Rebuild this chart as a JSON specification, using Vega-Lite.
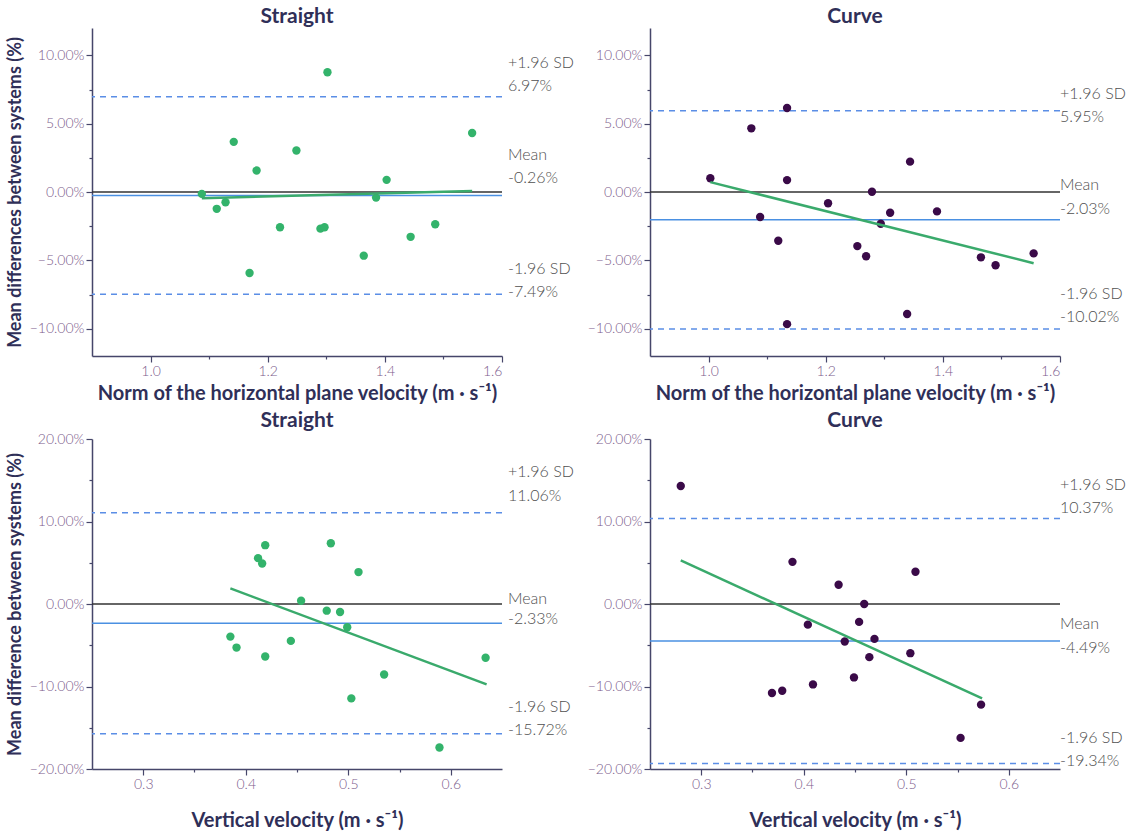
{
  "$schema": "https://vega.github.io/schema/vega-lite/v6.json",
  "background": "white",
  "padding": {"left": 6, "top": 6, "right": 0, "bottom": 5},
  "config": {
    "view": {"stroke": null},
    "font": "Lato",
    "axis": {"grid": false, "domainColor": "#46466a", "domainWidth": 1.5, "tickColor": "#46466a", "tickWidth": 1.2, "labelColor": "#7c5c8c", "labelFontSize": 14, "labelFont": "Lato", "labelFontWeight": 300, "titleFont": "Lato", "titleFontWeight": "bold", "titleColor": "#2f2f58", "titleFontSize": 20},
    "axisY": {"titleFontSize": 18},
    "title": {"font": "Lato", "fontSize": 21, "fontWeight": "bold", "color": "#2f2f58", "offset": 1, "anchor": "middle", "frame": "group"},
    "text": {"font": "Lato", "fontSize": 16, "fontWeight": 300, "color": "#505050", "align": "left", "baseline": "middle"}
  },
  "bounds": "flush",
  "columns": 2,
  "spacing": {"row": 83, "column": 148},
  "concat": [
        {
          "width": 410, "height": 328,
          "title": "Straight",
          "layer": [
            {"data": {"values": [{"y": 0}]}, "mark": {"type": "rule", "color": "#333333", "strokeWidth": 1.5}, "encoding": {"y": {"field": "y", "type": "quantitative", "scale": {"domain": [-12, 12], "nice": false}}}},
            {"data": {"values": [{"y": -0.26}]}, "mark": {"type": "rule", "color": "#4a90e2", "strokeWidth": 1.5}, "encoding": {"y": {"field": "y", "type": "quantitative"}}},
            {"data": {"values": [{"y": 6.97}, {"y": -7.49}]}, "mark": {"type": "rule", "color": "#5b8ee6", "strokeWidth": 1.5, "strokeDash": [6, 5]}, "encoding": {"y": {"field": "y", "type": "quantitative"}}},
            {"data": {"values": [
              {"x": 1.0875, "y": -0.14}, {"x": 1.113, "y": -1.23}, {"x": 1.128, "y": -0.75}, {"x": 1.142, "y": 3.67},
              {"x": 1.169, "y": -5.93}, {"x": 1.181, "y": 1.57}, {"x": 1.221, "y": -2.58}, {"x": 1.249, "y": 3.04},
              {"x": 1.290, "y": -2.68}, {"x": 1.297, "y": -2.58}, {"x": 1.302, "y": 8.76}, {"x": 1.364, "y": -4.66},
              {"x": 1.385, "y": -0.41}, {"x": 1.403, "y": 0.89}, {"x": 1.444, "y": -3.28}, {"x": 1.486, "y": -2.36},
              {"x": 1.549, "y": 4.32}]},
             "mark": {"type": "circle", "size": 70, "opacity": 1, "color": "#33b36b"},
             "encoding": {
               "x": {"field": "x", "type": "quantitative", "scale": {"domain": [0.9, 1.6], "nice": false, "zero": false},
                     "axis": {"title": "Norm of the horizontal plane velocity (m · s⁻¹)", "titlePadding": 5, "values": [1.0, 1.1, 1.2, 1.3, 1.4, 1.5, 1.6],
                              "labelExpr": "round(datum.value*10)%2==0 ? format(datum.value,'.1f') : ''",
                              "tickSize": {"condition": {"test": "round(datum.value*10)%2!=0", "value": 3}, "value": 6}}},
               "y": {"field": "y", "type": "quantitative",
                     "axis": {"title": "Mean differences between systems (%)", "titlePadding": 5, "values": [-10, -7.5, -5, -2.5, 0, 2.5, 5, 7.5, 10],
                              "labelExpr": "datum.value%5==0 ? format(datum.value,'.2f')+'%' : ''",
                              "tickSize": {"condition": {"test": "datum.value%5!=0", "value": 3}, "value": 6}}}
             }},
            {"data": {"values": [{"x": 1.0875, "y": -0.45}, {"x": 1.549, "y": 0.07}]}, "mark": {"type": "line", "color": "#3aaa6c", "strokeWidth": 2.5}, "encoding": {"x": {"field": "x", "type": "quantitative"}, "y": {"field": "y", "type": "quantitative"}}},
            {"data": {"values": [
              {"x": 1.6, "y": 9.46, "t": "+1.96 SD"}, {"x": 1.6, "y": 7.72, "t": "6.97%"},
              {"x": 1.6, "y": 2.70, "t": "Mean"}, {"x": 1.6, "y": 1.06, "t": "-0.26%"},
              {"x": 1.6, "y": -5.62, "t": "-1.96 SD"}, {"x": 1.6, "y": -7.31, "t": "-7.49%"}]},
             "mark": {"type": "text", "dx": 6}, "encoding": {"x": {"field": "x", "type": "quantitative"}, "y": {"field": "y", "type": "quantitative"}, "text": {"field": "t"}}}
          ]
        },
        {
          "width": 410, "height": 328,
          "title": "Curve",
          "layer": [
            {"data": {"values": [{"y": 0}]}, "mark": {"type": "rule", "color": "#333333", "strokeWidth": 1.5}, "encoding": {"y": {"field": "y", "type": "quantitative", "scale": {"domain": [-12, 12], "nice": false}}}},
            {"data": {"values": [{"y": -2.03}]}, "mark": {"type": "rule", "color": "#4a90e2", "strokeWidth": 1.5}, "encoding": {"y": {"field": "y", "type": "quantitative"}}},
            {"data": {"values": [{"y": 5.95}, {"y": -10.02}]}, "mark": {"type": "rule", "color": "#5b8ee6", "strokeWidth": 1.5, "strokeDash": [6, 5]}, "encoding": {"y": {"field": "y", "type": "quantitative"}}},
            {"data": {"values": [
              {"x": 1.003, "y": 1.01}, {"x": 1.073, "y": 4.66}, {"x": 1.088, "y": -1.83}, {"x": 1.119, "y": -3.57},
              {"x": 1.134, "y": 6.15}, {"x": 1.134, "y": 0.87}, {"x": 1.134, "y": -9.67}, {"x": 1.204, "y": -0.82},
              {"x": 1.254, "y": -3.96}, {"x": 1.269, "y": -4.70}, {"x": 1.279, "y": 0.02}, {"x": 1.294, "y": -2.32},
              {"x": 1.310, "y": -1.52}, {"x": 1.339, "y": -8.93}, {"x": 1.344, "y": 2.22}, {"x": 1.390, "y": -1.42},
              {"x": 1.465, "y": -4.78}, {"x": 1.490, "y": -5.36}, {"x": 1.555, "y": -4.49}]},
             "mark": {"type": "circle", "size": 70, "opacity": 1, "color": "#3a0a48"},
             "encoding": {
               "x": {"field": "x", "type": "quantitative", "scale": {"domain": [0.9, 1.6], "nice": false, "zero": false},
                     "axis": {"title": "Norm of the horizontal plane velocity (m · s⁻¹)", "titlePadding": 5, "values": [1.0, 1.1, 1.2, 1.3, 1.4, 1.5, 1.6],
                              "labelExpr": "round(datum.value*10)%2==0 ? format(datum.value,'.1f') : ''",
                              "tickSize": {"condition": {"test": "round(datum.value*10)%2!=0", "value": 3}, "value": 6}}},
               "y": {"field": "y", "type": "quantitative",
                     "axis": {"title": null, "values": [-10, -7.5, -5, -2.5, 0, 2.5, 5, 7.5, 10],
                              "labelExpr": "datum.value%5==0 ? format(datum.value,'.2f')+'%' : ''",
                              "tickSize": {"condition": {"test": "datum.value%5!=0", "value": 3}, "value": 6}}}
             }},
            {"data": {"values": [{"x": 1.003, "y": 0.72}, {"x": 1.555, "y": -5.21}]}, "mark": {"type": "line", "color": "#3aaa6c", "strokeWidth": 2.5}, "encoding": {"x": {"field": "x", "type": "quantitative"}, "y": {"field": "y", "type": "quantitative"}}},
            {"data": {"values": [
              {"x": 1.6, "y": 7.17, "t": "+1.96 SD"}, {"x": 1.6, "y": 5.48, "t": "5.95%"},
              {"x": 1.6, "y": 0.48, "t": "Mean"}, {"x": 1.6, "y": -1.21, "t": "-2.03%"},
              {"x": 1.6, "y": -7.43, "t": "-1.96 SD"}, {"x": 1.6, "y": -9.17, "t": "-10.02%"}]},
             "mark": {"type": "text", "dx": 0}, "encoding": {"x": {"field": "x", "type": "quantitative"}, "y": {"field": "y", "type": "quantitative"}, "text": {"field": "t"}}}
          ]
        },
        {
          "width": 410, "height": 330,
          "title": "Straight",
          "layer": [
            {"data": {"values": [{"y": 0}]}, "mark": {"type": "rule", "color": "#333333", "strokeWidth": 1.5}, "encoding": {"y": {"field": "y", "type": "quantitative", "scale": {"domain": [-20, 20], "nice": false}}}},
            {"data": {"values": [{"y": -2.33}]}, "mark": {"type": "rule", "color": "#4a90e2", "strokeWidth": 1.5}, "encoding": {"y": {"field": "y", "type": "quantitative"}}},
            {"data": {"values": [{"y": 11.06}, {"y": -15.72}]}, "mark": {"type": "rule", "color": "#5b8ee6", "strokeWidth": 1.5, "strokeDash": [6, 5]}, "encoding": {"y": {"field": "y", "type": "quantitative"}}},
            {"data": {"values": [
              {"x": 0.385, "y": -3.95}, {"x": 0.391, "y": -5.28}, {"x": 0.412, "y": 5.56}, {"x": 0.416, "y": 4.91},
              {"x": 0.419, "y": 7.13}, {"x": 0.419, "y": -6.36}, {"x": 0.444, "y": -4.47}, {"x": 0.454, "y": 0.40},
              {"x": 0.479, "y": -0.81}, {"x": 0.483, "y": 7.37}, {"x": 0.492, "y": -0.97}, {"x": 0.499, "y": -2.82},
              {"x": 0.510, "y": 3.87}, {"x": 0.503, "y": -11.44}, {"x": 0.535, "y": -8.54}, {"x": 0.589, "y": -17.40},
              {"x": 0.634, "y": -6.52}]},
             "mark": {"type": "circle", "size": 70, "opacity": 1, "color": "#33b36b"},
             "encoding": {
               "x": {"field": "x", "type": "quantitative", "scale": {"domain": [0.25, 0.65], "nice": false, "zero": false},
                     "axis": {"title": "Vertical velocity (m · s⁻¹)", "titlePadding": 19, "values": [0.3, 0.35, 0.4, 0.45, 0.5, 0.55, 0.6],
                              "labelExpr": "round(datum.value*100)%10==0 ? format(datum.value,'.1f') : ''",
                              "tickSize": {"condition": {"test": "round(datum.value*100)%10!=0", "value": 3}, "value": 6}}},
               "y": {"field": "y", "type": "quantitative",
                     "axis": {"title": "Mean difference between systems (%)", "titlePadding": 5, "values": [-20, -15, -10, -5, 0, 5, 10, 15, 20],
                              "labelExpr": "datum.value%10==0 ? format(datum.value,'.2f')+'%' : ''",
                              "tickSize": {"condition": {"test": "datum.value%10!=0", "value": 3}, "value": 6}}}
             }},
            {"data": {"values": [{"x": 0.385, "y": 1.89}, {"x": 0.635, "y": -9.75}]}, "mark": {"type": "line", "color": "#3aaa6c", "strokeWidth": 2.5}, "encoding": {"x": {"field": "x", "type": "quantitative"}, "y": {"field": "y", "type": "quantitative"}}},
            {"data": {"values": [
              {"x": 0.65, "y": 15.99, "t": "+1.96 SD"}, {"x": 0.65, "y": 13.09, "t": "11.06%"},
              {"x": 0.65, "y": 0.60, "t": "Mean"}, {"x": 0.65, "y": -1.85, "t": "-2.33%"},
              {"x": 0.65, "y": -12.53, "t": "-1.96 SD"}, {"x": 0.65, "y": -15.30, "t": "-15.72%"}]},
             "mark": {"type": "text", "dx": 6}, "encoding": {"x": {"field": "x", "type": "quantitative"}, "y": {"field": "y", "type": "quantitative"}, "text": {"field": "t"}}}
          ]
        },
        {
          "width": 410, "height": 330,
          "title": "Curve",
          "layer": [
            {"data": {"values": [{"y": 0}]}, "mark": {"type": "rule", "color": "#333333", "strokeWidth": 1.5}, "encoding": {"y": {"field": "y", "type": "quantitative", "scale": {"domain": [-20, 20], "nice": false}}}},
            {"data": {"values": [{"y": -4.49}]}, "mark": {"type": "rule", "color": "#4a90e2", "strokeWidth": 1.5}, "encoding": {"y": {"field": "y", "type": "quantitative"}}},
            {"data": {"values": [{"y": 10.37}, {"y": -19.34}]}, "mark": {"type": "rule", "color": "#5b8ee6", "strokeWidth": 1.5, "strokeDash": [6, 5]}, "encoding": {"y": {"field": "y", "type": "quantitative"}}},
            {"data": {"values": [
              {"x": 0.280, "y": 14.30}, {"x": 0.369, "y": -10.79}, {"x": 0.379, "y": -10.51}, {"x": 0.389, "y": 5.11},
              {"x": 0.404, "y": -2.50}, {"x": 0.409, "y": -9.75}, {"x": 0.434, "y": 2.34}, {"x": 0.440, "y": -4.55},
              {"x": 0.449, "y": -8.90}, {"x": 0.454, "y": -2.17}, {"x": 0.459, "y": 0.0}, {"x": 0.464, "y": -6.44},
              {"x": 0.469, "y": -4.23}, {"x": 0.504, "y": -5.96}, {"x": 0.509, "y": 3.91}, {"x": 0.553, "y": -16.23},
              {"x": 0.573, "y": -12.20}]},
             "mark": {"type": "circle", "size": 70, "opacity": 1, "color": "#3a0a48"},
             "encoding": {
               "x": {"field": "x", "type": "quantitative", "scale": {"domain": [0.25, 0.65], "nice": false, "zero": false},
                     "axis": {"title": "Vertical velocity (m · s⁻¹)", "titlePadding": 19, "values": [0.3, 0.35, 0.4, 0.45, 0.5, 0.55, 0.6],
                              "labelExpr": "round(datum.value*100)%10==0 ? format(datum.value,'.1f') : ''",
                              "tickSize": {"condition": {"test": "round(datum.value*100)%10!=0", "value": 3}, "value": 6}}},
               "y": {"field": "y", "type": "quantitative",
                     "axis": {"title": null, "values": [-20, -15, -10, -5, 0, 5, 10, 15, 20],
                              "labelExpr": "datum.value%10==0 ? format(datum.value,'.2f')+'%' : ''",
                              "tickSize": {"condition": {"test": "datum.value%10!=0", "value": 3}, "value": 6}}}
             }},
            {"data": {"values": [{"x": 0.280, "y": 5.28}, {"x": 0.574, "y": -11.44}]}, "mark": {"type": "line", "color": "#3aaa6c", "strokeWidth": 2.5}, "encoding": {"x": {"field": "x", "type": "quantitative"}, "y": {"field": "y", "type": "quantitative"}}},
            {"data": {"values": [
              {"x": 0.65, "y": 14.46, "t": "+1.96 SD"}, {"x": 0.65, "y": 11.68, "t": "10.37%"},
              {"x": 0.65, "y": -2.46, "t": "Mean"}, {"x": 0.65, "y": -5.28, "t": "-4.49%"},
              {"x": 0.65, "y": -16.23, "t": "-1.96 SD"}, {"x": 0.65, "y": -19.05, "t": "-19.34%"}]},
             "mark": {"type": "text", "dx": 0}, "encoding": {"x": {"field": "x", "type": "quantitative"}, "y": {"field": "y", "type": "quantitative"}, "text": {"field": "t"}}}
          ]
        }
  ]
}
